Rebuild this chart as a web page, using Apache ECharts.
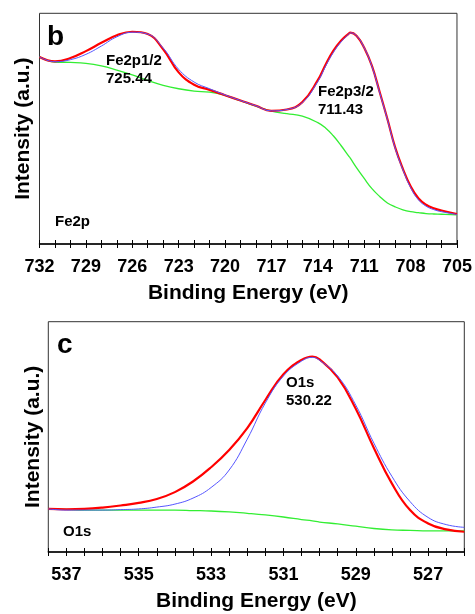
<!DOCTYPE html>
<html><head><meta charset="utf-8">
<script src="https://cdn.jsdelivr.net/npm/echarts@6/dist/echarts.min.js"></script>
<style>html,body{margin:0;padding:0;background:#fff}#c{width:475px;height:614px}</style>
</head><body><div id="c"></div>
<script>
// ---- Panel b : Fe2p ----
const feEnergy = [732,731,730,729,728,727,726,725,724,723,722,721,720,719,718,717,716,715,714,713.5,713,712.5,712,711.9,711.5,711,710.5,710,709.5,709,708.5,708,707.5,707,706.5,706,705];
const feRaw    = [81.1,79.2,80.6,83.6,87.2,90.5,92.0,91.0,84.4,74.4,69.0,66.8,64.5,62.2,59.9,57.7,58.3,61.5,71.0,77.7,83.7,88.1,91.2,91.6,90.3,85.1,77.2,65.9,54.2,41.9,32.6,25.0,19.8,17.0,15.5,14.5,13.0];
const feFit    = [81.1,79.0,79.9,82.2,85.8,89.8,91.8,91.0,84.9,75.7,70.2,67.3,64.6,62.2,59.9,57.7,58.3,61.3,70.4,77.0,83.0,87.6,91.0,91.5,90.3,85.1,77.0,65.6,54.0,41.6,32.2,24.5,19.2,16.4,14.9,14.0,12.8];
const feBg     = [81.1,78.9,78.7,78.3,77.2,75.4,73.3,70.9,68.8,67.3,66.3,65.8,64.4,62.1,59.8,57.6,56.5,55.4,52.6,50.3,46.9,42.7,38.1,37.2,33.1,28.4,24.0,20.6,17.8,16.1,14.8,14.0,13.6,13.2,13.0,12.9,12.6];
const feTicks  = [732,729,726,723,720,717,714,711,708,705];

// ---- Panel c : O1s ----
const oEnergy = [537.5,537,536.5,536,535.5,535,534.5,534,533.5,533,532.5,532,531.5,531,530.5,530.2,530,529.5,529,528.5,528,527.5,527,526.5,526];
const oRaw    = [18.7,18.5,18.7,19.3,20.2,21.3,23.0,26.0,30.6,36.8,44.3,53.8,66.0,77.2,83.4,84.9,83.6,75.8,62.2,45.2,29.7,18.2,12.4,9.8,8.8];
const oFit    = [18.7,18.2,18.2,18.2,18.4,18.7,19.5,20.8,23.4,28.0,35.6,49.0,64.7,76.4,82.9,84.5,83.2,76.4,63.8,47.3,32.8,21.9,15.0,11.9,10.7];
const oBg     = [18.7,18.5,18.2,18.2,18.2,18.2,18.2,18.2,18.0,17.8,17.4,16.8,16.1,15.2,14.1,13.5,13.0,12.2,11.2,10.2,9.6,9.4,9.2,9.2,9.2];
const oTicks  = [537,535,533,531,529,527];

const FF = 'Liberation Sans, Arial, sans-serif';
const pairs = (xs, ys) => xs.map((x, i) => [x, ys[i]]);
const near = (v, list) => list.some(t => Math.abs(t - v) < 1e-6);

function xAxes(grid, min, max, step, ticks) {
  return [{
    gridIndex: grid, type: 'value', min: min, max: max, interval: step, inverse: true,
    position: 'bottom',
    axisLine: { lineStyle: { color: '#000', width: 1.5 } },
    axisTick: { length: 4, lineStyle: { color: '#000', width: 1 } },
    axisLabel: { margin: 14, fontSize: 18, fontWeight: 'bold', color: '#000', fontFamily: FF,
      formatter: v => near(v, ticks) ? String(Math.round(v)) : '' },
    splitLine: { show: false },
    name: 'Binding Energy (eV)', nameLocation: 'middle', nameGap: 39,
    nameTextStyle: { fontSize: 21, fontWeight: 'bold', color: '#000', fontFamily: FF }
  }, {
    gridIndex: grid, type: 'value', min: min, max: max, interval: step, inverse: true,
    position: 'bottom',
    axisLine: { show: false },
    axisTick: { inside: true, length: 4, lineStyle: { color: '#000', width: 1 } },
    axisLabel: { show: false }, splitLine: { show: false }
  }];
}
function yAxis(grid, gap) {
  return {
    gridIndex: grid, type: 'value', min: 0, max: 100,
    axisLine: { show: false }, axisTick: { show: false }, axisLabel: { show: false },
    splitLine: { show: false },
    name: 'Intensity (a.u.)', nameLocation: 'middle', nameGap: gap,
    nameTextStyle: { fontSize: 21, fontWeight: 'bold', color: '#000', fontFamily: FF }
  };
}
function line(xi, yi, data, color, width) {
  return { type: 'line', xAxisIndex: xi, yAxisIndex: yi, data: data, showSymbol: false,
    smooth: 0.45, lineStyle: { color: color, width: width }, silent: true, z: 2 };
}
function txt(left, top, text, size, align) {
  return { type: 'text', left: left, top: top, z: 10,
    style: { text: text, font: 'bold ' + size + 'px ' + FF, fill: '#000', lineHeight: size === 15 ? 18 : size, align: align || 'left' } };
}

const chart = echarts.init(document.getElementById('c'), null, { renderer: 'canvas' });
chart.setOption({
  animation: false,
  backgroundColor: '#fff',
  grid: [
    { left: 39.5, top: 13.3, right: 16.7, height: 230.7, show: true, borderColor: '#333', borderWidth: 1, backgroundColor: 'transparent' },
    { left: 48.3, top: 321.7, right: 10.7, height: 230.3, show: true, borderColor: '#333', borderWidth: 1, backgroundColor: 'transparent' }
  ],
  xAxis: [].concat(xAxes(0, 705, 732, 1, feTicks), xAxes(1, 526, 537.5, 0.5, oTicks)),
  yAxis: [yAxis(0, 6), yAxis(1, 5)],
  series: [
    line(0, 0, pairs(feEnergy, feBg), '#33ee33', 1.3),
    line(0, 0, pairs(feEnergy, feRaw), '#ff0000', 2.2),
    line(0, 0, pairs(feEnergy, feFit), '#5555ff', 1),
    line(2, 1, pairs(oEnergy, oBg), '#33ee33', 1.3),
    line(2, 1, pairs(oEnergy, oRaw), '#ff0000', 2.2),
    line(2, 1, pairs(oEnergy, oFit), '#5555ff', 1)
  ],
  graphic: [
    txt(47, 23, 'b', 28),
    txt(106, 52, 'Fe2p1/2\n725.44', 15),
    txt(318, 83, 'Fe2p3/2\n711.43', 15),
    txt(55, 213, 'Fe2p', 15),
    txt(57, 331, 'c', 28),
    txt(286, 374, 'O1s\n530.22', 15),
    txt(63, 523, 'O1s', 15)
  ]
});
</script></body></html>
